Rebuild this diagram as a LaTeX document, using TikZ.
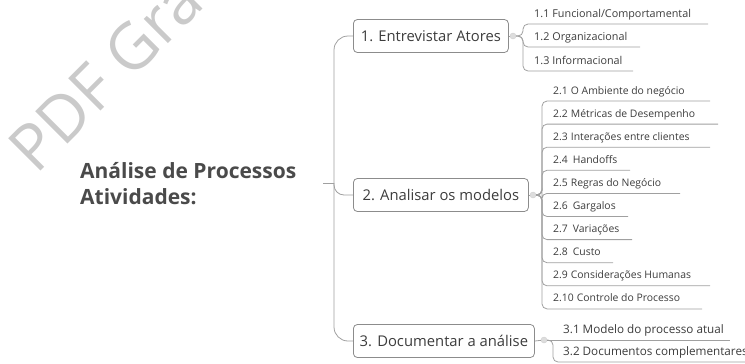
\documentclass[tikz,border=0pt]{standalone}
\usepackage{fontspec}
\setmainfont{Open Sans}
\definecolor{txt}{HTML}{3C3C3C}
\definecolor{titlegray}{HTML}{4A4A4A}
\definecolor{linegray}{HTML}{A0A0A0}
\definecolor{boxgray}{HTML}{8C8C8C}
\definecolor{dotgray}{HTML}{DDDDDD}
\definecolor{dotedge}{HTML}{CFCFCF}
\definecolor{wm}{HTML}{CACACA}
\tikzset{
  conn/.style={draw=linegray, line width=0.8bp},
  boxnode/.style={draw=boxgray, rounded corners=4bp, line width=0.8bp, text=txt,
    font=\fontsize{14.8bp}{17bp}\selectfont, minimum height=33bp, inner xsep=0pt, anchor=west},
  leaf/.style={anchor=base west, inner sep=0pt, text=txt, font=\fontsize{10.4bp}{12bp}\selectfont},
  dotnode/.style={circle, fill=dotgray, draw=dotedge, inner sep=0pt, minimum size=6bp},
  titlenode/.style={anchor=base west, inner sep=0pt, text=titlegray,
    font=\bfseries\fontsize{21bp}{24bp}\selectfont},
}
\begin{document}
\begin{tikzpicture}[x=1bp,y=-1bp]
\useasboundingbox (0,0) rectangle (745,363);
% watermark
\node[rotate=45, anchor=base west, inner sep=0pt, text=wm, font=\fontsize{64bp}{64bp}\selectfont] (wmk) at (36,176) {PDF Gra};
% title
\node[titlenode] (t1) at (80,178) {Análise de Processos};
\node[titlenode] (t2) at (80,204) {Atividades:};
% boxes
\node[boxnode, minimum width=155bp] (b1) at (353,36) {1. Entrevistar Atores};
\node[boxnode, minimum width=175bp] (b2) at (353,195) {2. Analisar os modelos};
\node[boxnode, minimum width=181bp] (b3) at (353,341) {3. Documentar a análise};
% trunk
\coordinate (stub) at (323,183);
\coordinate (tr) at (334,183);
\draw[conn] (stub) -- (tr);
\draw[conn, rounded corners=14bp] (tr) |- (b1.west);
\draw[conn, rounded corners=10bp] (tr) |- (b2.west);
\draw[conn, rounded corners=14bp] (tr) |- (b3.west);
% dots
\node[dotnode] (d1) at (513,36) {};
\node[dotnode] (d2) at (533,195) {};
\node[dotnode] (d3) at (544,340) {};
\draw[conn] (b1.east) -- (d1);
\draw[conn] (b2.east) -- (d2);
\draw[conn] (b3.east) -- (d3);
% group 1
\foreach \i/\t/\e/\yy [count=\k] in {1.1/{Funcional/Comportamental}/708/24, 1.2/{Organizacional}/640/47, 1.3/{Informacional}/633/71} {
  \node[leaf, font=\fontsize{10.8bp}{12bp}\selectfont] (la\k) at (534,\yy-7) {\i\hspace{3bp}\t};
  \coordinate (ua\k) at (\e,\yy);
  \draw[conn, rounded corners=5bp] (d1) -- ++(10,0) |- (ua\k);
}
% group 2
\foreach \i/\t/\e [count=\k from 0] in {2.1/{O Ambiente do negócio}/710, 2.2/{Métricas de Desempenho}/718, 2.3/{Interações entre clientes}/710, 2.4/{\hspace{2bp}Handoffs}/630, 2.5/{Regras do Negócio}/680, 2.6/{\hspace{2bp}Gargalos}/628, 2.7/{\hspace{2bp}Variações}/632, 2.8/{\hspace{2bp}Custo}/613, 2.9/{Considerações Humanas}/710, 2.10/{Controle do Processo}/702} {
  \pgfmathsetmacro\yy{101+23.1*\k}
  \node[leaf] (lb\k) at (553,\yy-7) {\i\hspace{3bp}\t};
  \coordinate (ub\k) at (\e,\yy);
  \draw[conn, rounded corners=5bp] (d2) -- ++(9,0) |- (ub\k);
}
% group 3
\node[leaf, font=\fontsize{11.7bp}{13bp}\selectfont] (lc1) at (563,333) {3.1\hspace{3bp}Modelo do processo atual};
\coordinate (uc1) at (730,340);
\draw[conn] (d3) -- (uc1);
\node[leaf, font=\fontsize{11.7bp}{13bp}\selectfont] (lc2) at (563,355) {3.2\hspace{3bp}Documentos complementares};
\coordinate (uc2) at (748,362);
\draw[conn, rounded corners=5bp] (d3) -- ++(9,0) |- (uc2);
\end{tikzpicture}
\end{document}
